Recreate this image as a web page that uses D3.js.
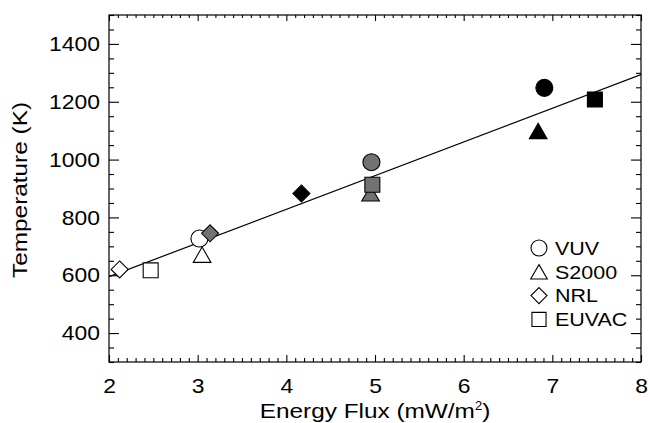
<!DOCTYPE html>
<html>
<head>
<meta charset="utf-8">
<script src="https://cdn.jsdelivr.net/npm/d3@7"></script>
<style>
  html, body { margin: 0; padding: 0; background: #fff; }
  svg { display: block; }
  text { font-family: "Liberation Sans", Arial, Helvetica, sans-serif; fill: #000; }
</style>
</head>
<body>
<svg id="chart" width="650" height="423"></svg>
<script>
// Thermospheric temperature versus solar EUV energy flux, per spectral model
const seriesNames = ["VUV", "S2000", "NRL", "EUVAC"];
const seriesShapes = ["circle", "triangle", "diamond", "square"];
// each model has three points: open, gray and black symbols
const shadeLevels = ["open", "gray", "black"];

const vuvFlux   = [3.02, 4.96, 6.91];
const vuvTemp   = [727, 991, 1248];
const s2000Flux = [3.05, 4.95, 6.84];
const s2000Temp = [671, 883, 1099];
const nrlFlux   = [2.12, 3.14, 4.17];
const nrlTemp   = [620, 745, 883];
const euvacFlux = [2.47, 4.97, 7.48];
const euvacTemp = [617, 913, 1208];

// linear fit through all points
const fitFlux = [2, 8];
const fitTemp = [595, 1294];

const xTicks = [2, 3, 4, 5, 6, 7, 8];
const yTicks = [400, 600, 800, 1000, 1200, 1400];

const W = 650, H = 423;
const m = { left: 109, right: 9, top: 15, bottom: 61 };
const svg = d3.select("#chart");

const x = d3.scaleLinear().domain([2, 8]).range([m.left, W - m.right]);
const y = d3.scaleLinear().domain([300, 1500]).range([H - m.bottom, m.top]);

const fills = { open: "#fff", gray: "#727272", black: "#000" };

// widen Helvetica-style glyphs a little, keeping the text as text
function widen(sel, factor) {
  sel.each(function () {
    const len = this.getComputedTextLength();
    d3.select(this).attr("textLength", len * factor).attr("lengthAdjust", "spacingAndGlyphs");
  });
}

function shapePath(shape, s) {
  if (shape === "circle") {
    const r = s * 0.5;
    return `M${-r},0A${r},${r} 0 1,0 ${r},0A${r},${r} 0 1,0 ${-r},0Z`;
  }
  if (shape === "square") {
    const q = s * 0.44;
    return `M${-q},${-q}H${q}V${q}H${-q}Z`;
  }
  if (shape === "diamond") {
    const q = s * 0.5;
    return `M0,${-q}L${q},0L0,${q}L${-q},0Z`;
  }
  // triangle centred on its bounding box
  const w = s * 0.52, t = s * 0.45;
  return `M0,${-t}L${w},${t}H${-w}Z`;
}

// fit line, clipped to the plot frame
svg.append("clipPath").attr("id", "plotclip")
  .append("rect")
  .attr("x", m.left).attr("y", m.top)
  .attr("width", W - m.left - m.right).attr("height", H - m.top - m.bottom);

svg.append("path")
  .attr("clip-path", "url(#plotclip)")
  .attr("d", d3.line().x(d => x(d[0])).y(d => y(d[1]))(d3.zip(fitFlux, fitTemp)))
  .attr("fill", "none").attr("stroke", "#000").attr("stroke-width", 1.2);

// frame and ticks
const g = svg.append("g");
const axisStyle = sel => {
  sel.select(".domain").remove();
  sel.selectAll("line").attr("stroke", "#000").attr("stroke-width", 1.1);
};

const xMinor = d3.range(20, 81).map(v => v / 10).filter(v => !xTicks.includes(v));
const yMinor = d3.range(300, 1501, 50).filter(v => !yTicks.includes(v));

// bottom
g.append("g").attr("transform", `translate(0,${H - m.bottom})`)
  .call(d3.axisBottom(x).tickValues(xTicks).tickSize(-7).tickPadding(16).tickFormat(d3.format("d")))
  .call(axisStyle)
  .call(s => s.selectAll("text").attr("font-size", 21).attr("dy", "0.71em").call(widen, 1.09));
g.append("g").attr("transform", `translate(0,${H - m.bottom})`)
  .call(d3.axisBottom(x).tickValues(xMinor).tickSize(-4).tickFormat(""))
  .call(axisStyle);
// top
g.append("g").attr("transform", `translate(0,${m.top})`)
  .call(d3.axisTop(x).tickValues(xTicks).tickSize(-6).tickFormat(""))
  .call(axisStyle);
g.append("g").attr("transform", `translate(0,${m.top})`)
  .call(d3.axisTop(x).tickValues(xMinor).tickSize(-3).tickFormat(""))
  .call(axisStyle);
// left
g.append("g").attr("transform", `translate(${m.left},0)`)
  .call(d3.axisLeft(y).tickValues(yTicks).tickSize(-10).tickPadding(9).tickFormat(d3.format("d")))
  .call(axisStyle)
  .call(s => s.selectAll("text").attr("font-size", 21).call(widen, 1.09));
g.append("g").attr("transform", `translate(${m.left},0)`)
  .call(d3.axisLeft(y).tickValues(yMinor).tickSize(-5).tickFormat(""))
  .call(axisStyle);
// right
g.append("g").attr("transform", `translate(${W - m.right},0)`)
  .call(d3.axisRight(y).tickValues(yTicks).tickSize(-10).tickFormat(""))
  .call(axisStyle);
g.append("g").attr("transform", `translate(${W - m.right},0)`)
  .call(d3.axisRight(y).tickValues(yMinor).tickSize(-5).tickFormat(""))
  .call(axisStyle);

svg.append("rect")
  .attr("x", m.left).attr("y", m.top)
  .attr("width", W - m.left - m.right).attr("height", H - m.top - m.bottom)
  .attr("fill", "none").attr("stroke", "#000").attr("stroke-width", 1.2);

// data symbols
const seriesData = [
  [vuvFlux, vuvTemp],
  [s2000Flux, s2000Temp],
  [nrlFlux, nrlTemp],
  [euvacFlux, euvacTemp]
];
const symSize = 17;

seriesData.forEach(([fx, ft], i) => {
  const shape = seriesShapes[i];
  fx.forEach((f, j) => {
    const shade = shadeLevels[j];
    svg.append("path")
      .attr("transform", `translate(${x(f)},${y(ft[j])})`)
      .attr("d", shapePath(shape, symSize))
      .attr("fill", fills[shade])
      .attr("stroke", "#000")
      .attr("stroke-width", 1.1);
  });
});

// legend
const legend = svg.append("g").attr("transform", "translate(539,248)");
seriesNames.forEach((name, i) => {
  const row = legend.append("g").attr("transform", `translate(0,${i * 23.8})`);
  row.append("path")
    .attr("d", shapePath(seriesShapes[i], 16))
    .attr("fill", "#fff").attr("stroke", "#000").attr("stroke-width", 1.1);
  row.append("text").attr("x", 16).attr("dy", "0.36em")
    .attr("font-size", 19).text(name)
    .call(widen, 1.13);
});

// axis titles
const xTitle = svg.append("text")
  .attr("x", x(5)).attr("y", 418)
  .attr("text-anchor", "middle").attr("font-size", 21);
xTitle.append("tspan").text("Energy Flux (mW/m").call(widen, 1.16);
xTitle.append("tspan").attr("dy", -8).attr("font-size", 13).text("2");
xTitle.append("tspan").attr("dy", 8).text(")").call(widen, 1.16);

svg.append("text")
  .attr("transform", "translate(27,190) rotate(-90)")
  .attr("text-anchor", "middle").attr("font-size", 21)
  .text("Temperature (K)")
  .call(widen, 1.16);
</script>
</body>
</html>
